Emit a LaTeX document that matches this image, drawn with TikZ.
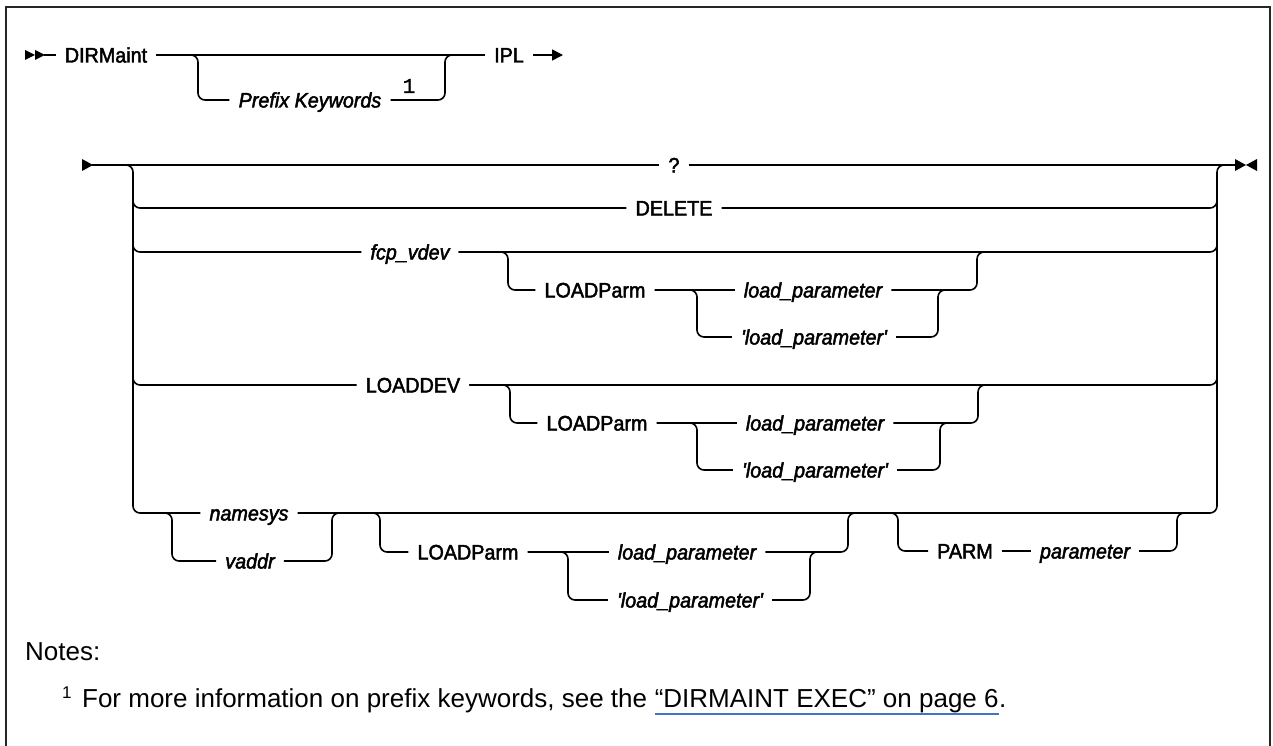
\documentclass[tikz,border=0pt]{standalone}
\usepackage{fontspec}
\newfontfamily\diagfont{Liberation Sans}[FakeBold=2.2,FakeStretch=0.94]
\newfontfamily\notefont{Liberation Mono}[FakeBold=1.5]
\setmainfont{Liberation Sans}
\usetikzlibrary{arrows.meta}
\newcommand\kwfont{\diagfont\fontsize{21}{25}\selectfont}
\newcommand\vrfont{\diagfont\fontsize{21}{25}\selectfont\itshape}
\newcommand\ntfont{\fontsize{26}{31}\selectfont}
\definecolor{linkblue}{HTML}{4472C4}
\begin{document}
\begin{tikzpicture}[x=1pt,y=-1pt,
  rr/.style={line width=1.6pt, rounded corners=7pt},
  kw/.style={font=\kwfont, inner xsep=9pt, inner ysep=0pt, text height=15pt, text depth=0pt},
  vr/.style={kw, font=\vrfont},
  tip/.style={fill=black}]
\useasboundingbox (0,0) rectangle (1273,746);
\draw[line width=2pt, black!85] (6,746) -- (6,7) -- (1270,7) -- (1270,746);

% ---------- row 1 ----------
\fill[tip] (25,50) -- (35,55) -- (25,60) -- cycle;
\fill[tip] (35,50) -- (45,55) -- (35,60) -- cycle;
\coordinate (s0) at (44,55);
\node[kw] (dirm) at (106,55) {DIRMaint};
\node[kw] (ipl) at (509,55) {IPL};
\node[vr] (pk) at (310,100) {Prefix Keywords};
\node[font=\notefont\fontsize{21}{24}\selectfont, inner sep=0pt] (n1) at (409,86) {1};
\coordinate (b1l) at (198,55);
\coordinate (b1r) at (445,55);
\coordinate (iplend) at (563,55);
\draw[rr] (s0) -- (dirm.west);
\draw[rr] (dirm.east) -- (ipl.west);
\draw[rr] (dirm.east) -- (b1l) |- (pk.west);
\draw[rr] (pk.east) -| (b1r) -- (ipl.west);
\draw[line width=1.6pt, -{Triangle[length=11pt,width=11pt]}] (ipl.east) -- (iplend);

% ---------- row 2 main ----------
\fill[tip] (82,159) -- (93,165) -- (82,171) -- cycle;
\coordinate (s2) at (92,165);
\node[kw] (q) at (674,165) {?};
\coordinate (e2) at (1236,165);
\fill[tip] (1235,159) -- (1246,165) -- (1235,171) -- cycle;
\fill[tip] (1257,159) -- (1246,165) -- (1257,171) -- cycle;
\draw[rr] (s2) -- (q.west);
\draw[rr] (q.east) -- (e2);

\coordinate (Lin) at (118,165);
\coordinate (Ltop) at (133,165);
\coordinate (Lbot) at (133,513);
\coordinate (Rtop) at (1217,165);
\coordinate (Rbot) at (1217,513);
\coordinate (Ld) at (133,190);
\coordinate (Lf) at (133,230);
\coordinate (Ll) at (133,360);
\coordinate (Rd) at (1217,190);
\coordinate (Rf) at (1217,230);
\coordinate (Rl) at (1217,360);

\node[kw] (del) at (674,208) {DELETE};
\node[vr] (fcp) at (410,252) {fcp\_vdev};
\node[kw] (ldev) at (413,385) {LOADDEV};
\node[vr] (ns) at (249,513) {namesys};
\node[vr] (va) at (250,561) {vaddr};

\draw[rr] (Lin) -- (Ltop) -- (Lbot) -- (ns.west);
\draw[rr] (Ld) |- (del.west);
\draw[rr] (Lf) |- (fcp.west);
\draw[rr] (Ll) |- (ldev.west);
\draw[rr] (del.east) -| (Rd);
\draw[rr] (fcp.east) -| (Rf);
\draw[rr] (ldev.east) -| (Rl);
\draw[rr] (ns.east) -- (Rbot) -- (Rtop) -- (e2);

% ---------- fcp_vdev group ----------
\node[kw] (lpa) at (595,290) {LOADParm};
\node[vr] (ldpa) at (813,290) {load\_parameter};
\node[vr] (qldpa) at (814,337) {'load\_parameter'};
\coordinate (fa1) at (508,252);
\coordinate (fa2) at (697,290);
\coordinate (fa3) at (938,290);
\coordinate (fa3r) at (952,290);
\coordinate (fa5) at (977,252);
\coordinate (fa6) at (992,252);
\draw[rr] (fcp.east) -- (fa1) |- (lpa.west);
\draw[rr] (lpa.east) -- (ldpa.west);
\draw[rr] (lpa.east) -- (fa2) |- (qldpa.west);
\draw[rr] (qldpa.east) -| (fa3) -- (fa3r);
\draw[rr] (ldpa.east) -| (fa5) -- (fa6);

% ---------- LOADDEV group ----------
\node[kw] (lpb) at (597,423) {LOADParm};
\node[vr] (ldpb) at (815,423) {load\_parameter};
\node[vr] (qldpb) at (815,470) {'load\_parameter'};
\coordinate (fb1) at (510,385);
\coordinate (fb2) at (697,423);
\coordinate (fb3) at (940,423);
\coordinate (fb3r) at (954,423);
\coordinate (fb5) at (978,385);
\coordinate (fb6) at (993,385);
\draw[rr] (ldev.east) -- (fb1) |- (lpb.west);
\draw[rr] (lpb.east) -- (ldpb.west);
\draw[rr] (lpb.east) -- (fb2) |- (qldpb.west);
\draw[rr] (qldpb.east) -| (fb3) -- (fb3r);
\draw[rr] (ldpb.east) -| (fb5) -- (fb6);

% ---------- namesys / vaddr ----------
\coordinate (nc0) at (150,513);
\coordinate (nc1) at (172,513);
\coordinate (nc2) at (332,513);
\coordinate (nc3) at (346,513);
\draw[rr] (nc0) -- (nc1) |- (va.west);
\draw[rr] (va.east) -| (nc2) -- (nc3);

% ---------- LOADParm (third) ----------
\node[kw] (lpc) at (468,552) {LOADParm};
\node[vr] (ldpc) at (687,552) {load\_parameter};
\node[vr] (qldpc) at (690,600) {'load\_parameter'};
\coordinate (cc0) at (365,513);
\coordinate (cc1) at (380,513);
\coordinate (cc2) at (568,552);
\coordinate (cc3) at (810,552);
\coordinate (cc3r) at (824,552);
\coordinate (cc5) at (848,513);
\coordinate (cc6) at (862,513);
\draw[rr] (cc0) -- (cc1) |- (lpc.west);
\draw[rr] (lpc.east) -- (ldpc.west);
\draw[rr] (lpc.east) -- (cc2) |- (qldpc.west);
\draw[rr] (qldpc.east) -| (cc3) -- (cc3r);
\draw[rr] (ldpc.east) -| (cc5) -- (cc6);

% ---------- PARM ----------
\node[kw] (parm) at (965,551) {PARM};
\node[vr] (param) at (1085,551) {parameter};
\coordinate (pc0) at (884,513);
\coordinate (pc1) at (898,513);
\coordinate (pc5) at (1177,513);
\coordinate (pc6) at (1191,513);
\draw[rr] (pc0) -- (pc1) |- (parm.west);
\draw[rr] (parm.east) -- (param.west);
\draw[rr] (param.east) -| (pc5) -- (pc6);

% ---------- notes ----------
\node[anchor=base west, inner sep=0pt, font=\ntfont] (notes) at (25,660) {Notes:};
\node[anchor=base west, inner sep=0pt, font=\ntfont] (fn1) at (62,707)
  {{\fontsize{17}{20}\selectfont\raisebox{9pt}{1}}\hspace{10.5pt}For more information on prefix keywords, see the};
\node[anchor=base west, inner sep=0pt, font=\ntfont] (fn2) at ([xshift=7.2pt]fn1.base east) {“DIRMAINT EXEC” on page 6};
\node[anchor=base west, inner sep=0pt, font=\ntfont] (fn3) at (fn2.base east) {.};
\draw[linkblue, line width=1.2pt] ([yshift=-7pt]fn2.base west) -- ([yshift=-7pt]fn2.base east);
\end{tikzpicture}
\end{document}
